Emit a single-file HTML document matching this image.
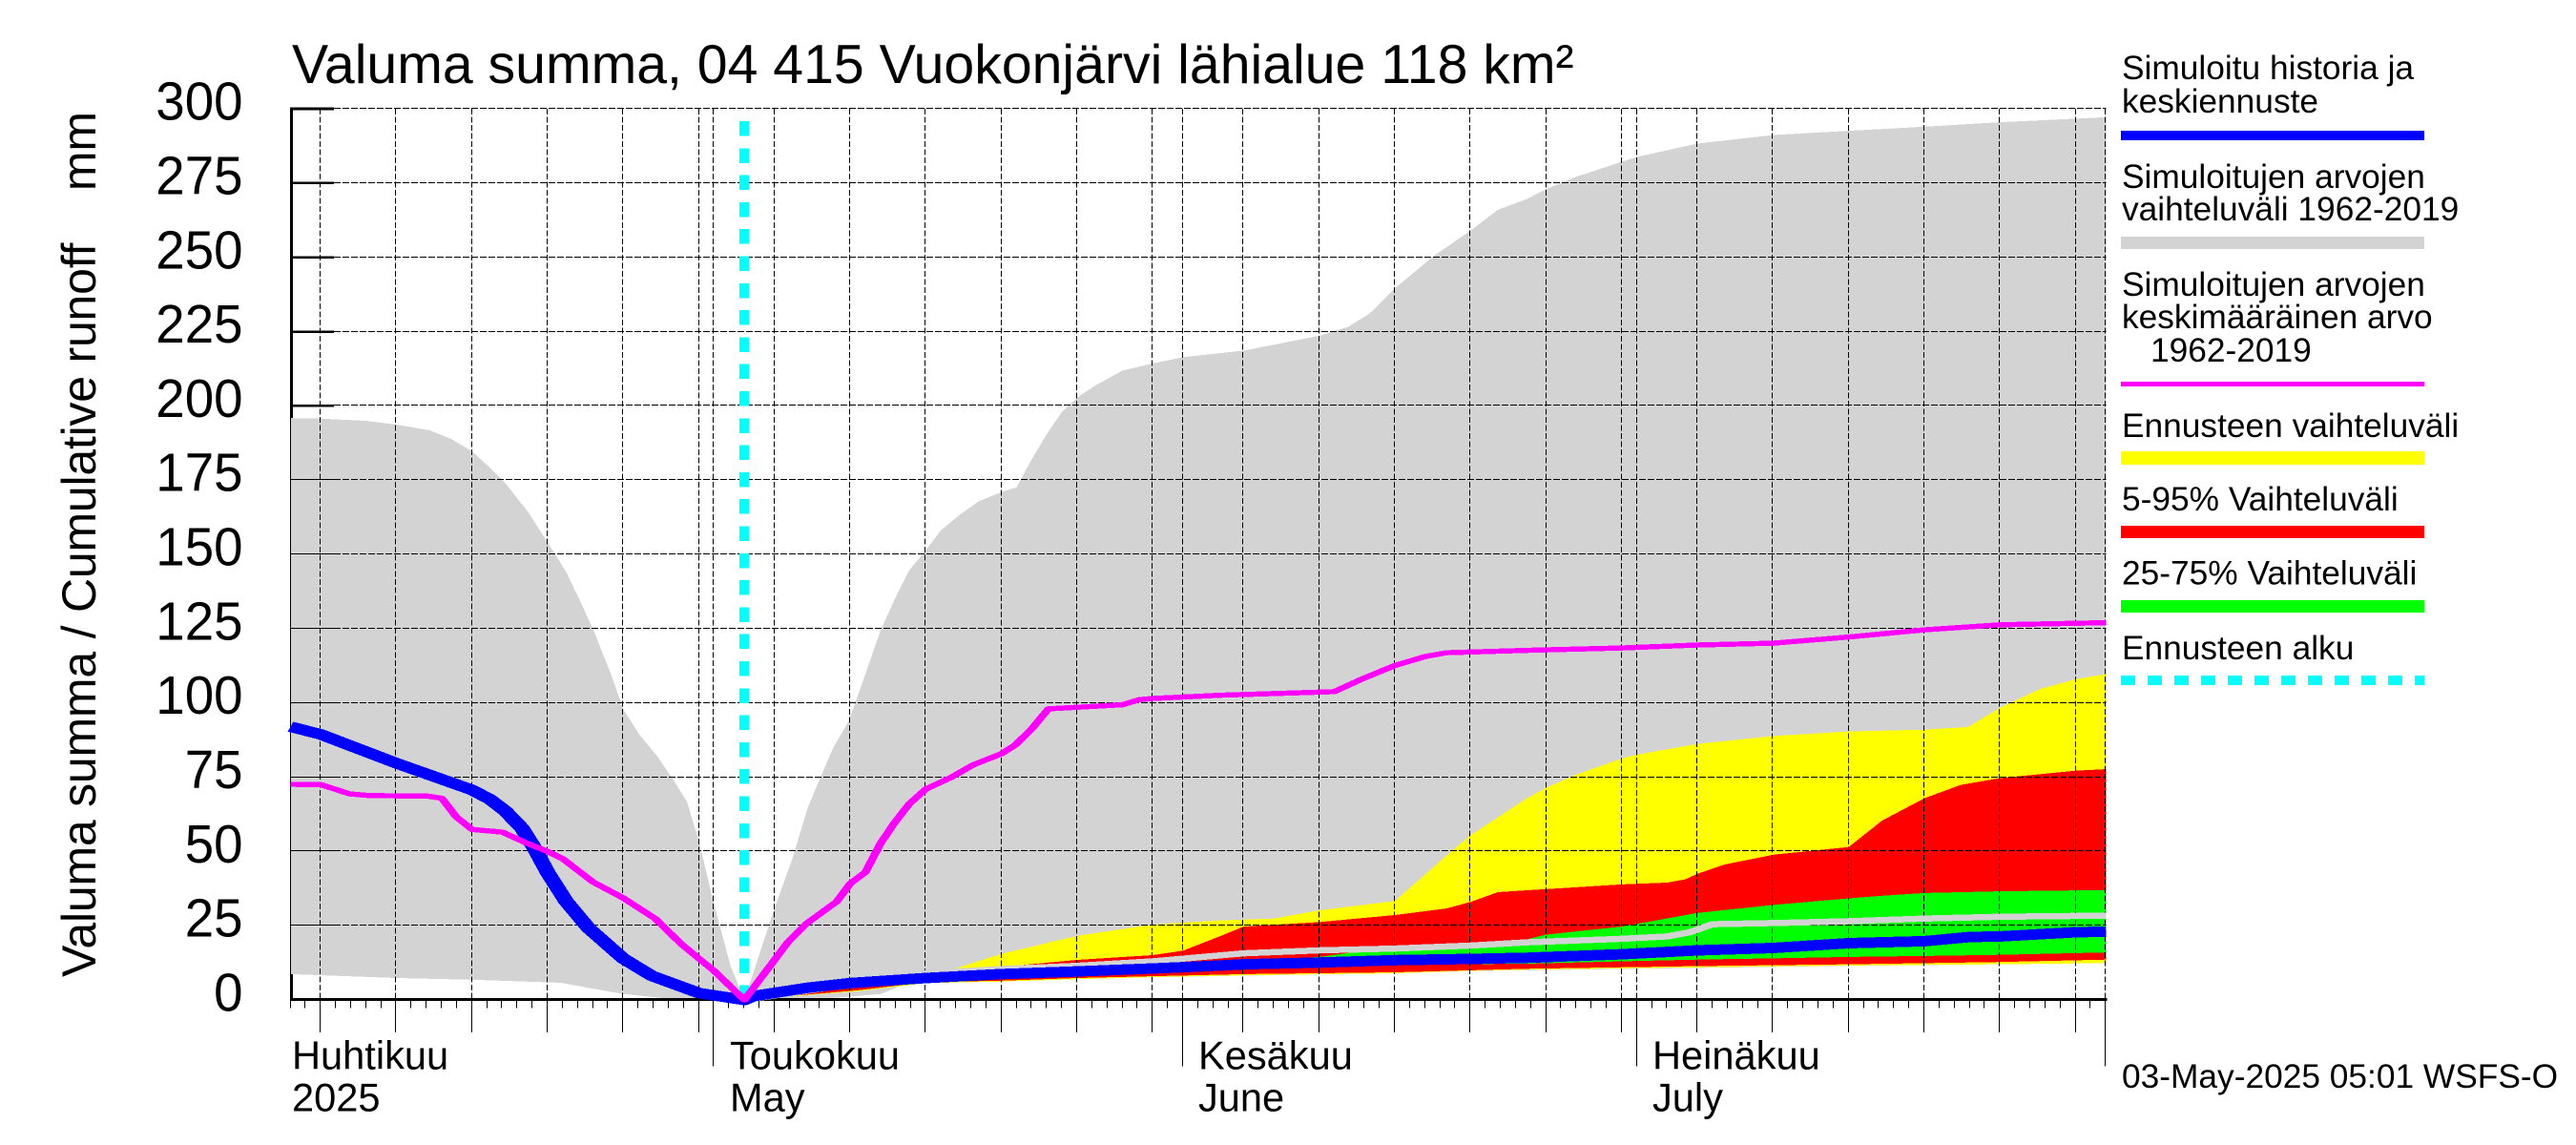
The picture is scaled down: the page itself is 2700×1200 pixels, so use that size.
<!DOCTYPE html>
<html lang="fi">
<head>
<meta charset="utf-8">
<title>Valuma summa, 04 415 Vuokonjärvi lähialue</title>
<style>
html,body{margin:0;padding:0;background:#fff;}
svg{display:block;font-family:"Liberation Sans","DejaVu Sans",sans-serif;fill:#000;}
text{white-space:pre;}
</style>
</head>
<body>
<svg id="chart" xmlns="http://www.w3.org/2000/svg" width="2700" height="1200" viewBox="0 0 2700 1200">
  <rect x="0" y="0" width="2700" height="1200" fill="#ffffff"/>
  <g id="plot"></g>

  <text x="306" y="87" font-size="57.2">Valuma summa, 04 415 Vuokonjärvi lähialue 118 km²</text>
  <text transform="translate(100,1024) rotate(-90)" font-size="50" textLength="907" lengthAdjust="spacing">Valuma summa / Cumulative runoff    mm</text>

  <text x="306" y="1120.5" font-size="41.6">Huhtikuu</text>
  <text x="306" y="1164.5" font-size="41.6">2025</text>
  <text x="765" y="1120.5" font-size="41.6">Toukokuu</text>
  <text x="765" y="1164.5" font-size="41.6">May</text>
  <text x="1256" y="1120.5" font-size="41.6">Kesäkuu</text>
  <text x="1256" y="1164.5" font-size="41.6">June</text>
  <text x="1732" y="1120.5" font-size="41.6">Heinäkuu</text>
  <text x="1732" y="1164.5" font-size="41.6">July</text>

  <g font-size="35.3" shape-rendering="crispEdges">
    <text x="2224" y="83">Simuloitu historia ja</text>
    <text x="2224" y="118">keskiennuste</text>
    <rect x="2223" y="137" width="318" height="10" fill="#0000ff"/>
    <text x="2224" y="197">Simuloitujen arvojen</text>
    <text x="2224" y="231">vaihteluväli 1962-2019</text>
    <rect x="2223" y="248" width="318" height="13" fill="#d3d3d3"/>
    <text x="2224" y="310">Simuloitujen arvojen</text>
    <text x="2224" y="344">keskimääräinen arvo</text>
    <text x="2254" y="379">1962-2019</text>
    <rect x="2223" y="400" width="318" height="5" fill="#ff00ff"/>
    <text x="2224" y="458">Ennusteen vaihteluväli</text>
    <rect x="2223" y="473" width="318" height="14" fill="#ffff00"/>
    <text x="2224" y="535">5-95% Vaihteluväli</text>
    <rect x="2223" y="551" width="318" height="13" fill="#ff0000"/>
    <text x="2224" y="612.5">25-75% Vaihteluväli</text>
    <rect x="2223" y="629" width="318" height="13" fill="#00ff00"/>
    <text x="2224" y="691">Ennusteen alku</text>
    <line x1="2223" y1="713" x2="2541" y2="713" stroke="#00ffff" stroke-width="10" stroke-dasharray="15 13"/>
  </g>

  <text x="2224" y="1140" font-size="35.3">03-May-2025 05:01 WSFS-O</text>
</svg>

<script>
// ---- Axis data ----
const yTickValues = [0,25,50,75,100,125,150,175,200,225,250,275,300];
const majorTickDays = [2,7,12,17,22,27,32,37,42,47,52,57,63,68,73,78,83,88,93,98,103,108,113,118];
const monthStartDays = [28,59,89,120];
const axisLastDay = 120;
const forecastStartDay = 30;

// ---- Series data: days since 3 April 2025, values in mm ----
const rangeUpperDays = [0,2,4.97,7,9.2,10.65,12,13.2,14.2,15.7,17,18.2,19.3,20.1,21.2,22,23.05,24.3,25.4,26.2,27.04,28,29.1,30,31,32,33.15,34.2,35.03,35.9,36.9,37.8,39,39.9,40.9,42,43,44.3,45.5,47,48,48.9,50,51,52,53.1,55,57,59,63,68,69.9,71.3,73,75.6,78,79.8,81.7,83,84.9,88,89,93,98,103,108,113,118,120];
const rangeUpperValues = [195.9,195.7,195,193.7,191.8,188.8,184.7,179.1,174,164.3,154,144.3,132.7,123.6,109.4,97.8,89.4,81.7,73.3,66.8,52.6,32,11.3,0,15.5,31,47.3,64.9,75,85.2,93.9,106.8,124.4,134.5,144.7,151.4,158.2,163.6,167.9,171,172.6,181.2,190.6,198,202.8,206.6,211.9,214.3,216.4,218.6,223.6,226.6,231,239.6,250.6,259,266,269.6,273,277,282.2,283.8,288.3,291.2,292.6,294,295.5,296.7,297.2];
const rangeLowerDays = [0,7,12,17.8,22,24.7,27,30,33,35.9,39,39.9,40.7,47,52,57,63,73,78,81.7,93,103,113,120];
const rangeLowerValues = [8.7,7.4,6.8,5.8,2,0.6,0,0,0,0.7,2,3.8,6,6.2,7,7.6,8.2,9,9.8,10,10.8,11.5,12,12.4];

const forecastUpperDays = [30,37.6,42,43.9,47,52,57,61.5,65,68,73,74.1,76.7,78,81.7,83,84.9,88,89,93,98,103,108,110.9,113,115.6,118,120];
const forecastUpperValues = [0,5.8,9.4,10.5,15.5,21.6,25.4,26.8,27.4,30.2,33.3,38.2,49.9,55.4,67.8,71.4,75.7,81.3,82.6,86.2,88.9,90.4,91,91.9,98.4,104.6,108,109.7];
const forecastLowerDays = [30,37.6,42,47,52,57,63,73,78,81.7,93,103,113,120];
const forecastLowerValues = [0,3,5.7,6.2,7,7.7,8.3,9,9.8,10.2,11,11.6,12,12.4];

const p95Days = [30,37.6,42,47,52,57,59,61.5,63,68,73,76.4,78,79.8,81.7,88,91,92.2,93,94.8,98,103,105.2,108,110.4,113,118,120];
const p95Values = [0,5.8,8.9,11.1,13.5,15.1,16.6,21.6,24.7,26.2,28.6,30.8,33,36.3,36.9,38.9,39.5,40.6,42.5,45.6,48.9,51.5,60.4,67.9,72.4,74.7,77.2,77.7];
const p5Days = [30,37.6,42,47,52,57,63,73,78,81.7,93,103,113,120];
const p5Values = [0,3.3,6,6.5,7.4,8,8.7,9.3,10,10.5,11.4,12,12.8,13.6];

const p75Days = [30,42,47,52,57,63,68,73,78,81.7,83,88,93,98,103,105,108,113,120];
const p75Values = [0,8,9,10.5,11.5,13,14.5,18,18.8,20.4,22,24.7,29.3,32,34.2,35,36,36.6,37];
const p25Days = [30,42,57,63,68,73,81.7,88,93,98,103,108,113,120];
const p25Values = [0,7.2,9.8,10.8,11.4,11.9,12.2,13,13.6,14,14.5,14.8,15.2,16];

const medianDays = [30,42,47,52,57,63,68,73,78,81.7,88,91,92.5,94,98,103,108,113,120];
const medianValues = [0,9,10.4,11.5,13,15.7,16.7,17.3,18.3,19.4,20.6,21.4,22.8,25.5,25.9,26.5,27.4,28,28.4];

const historyDays = [0,2,7,12,13.2,14.2,15.3,16.1,17,18.2,19.7,22,23.9,27,30,30.6,32,34.2,37,42,47,52,57,61.5,63,68,73,78,81.7,88,93,98,103,108,111,113,118,120];
const historyValues = [92,89.4,79.7,70.7,67.5,63.6,57.8,51.3,42.9,33.3,24.2,13.9,8.1,2.3,0,1.3,2.4,4.1,5.7,7.4,8.7,9.6,10.6,11.6,12,12.6,13.4,13.8,14.2,15.4,16.7,17.5,19.1,19.8,21.2,21.4,22.8,23];

const meanDays = [0,2,3.9,5.2,9.07,10,10.96,12,14,15.7,17,18,20,22,24.1,25.8,27,28,30,32.9,34.1,36.1,37,38,39,39.9,40.9,42,43.7,45.1,47,47.9,49,50.1,55,56.1,57,61.5,69,70.8,73,75,76.4,81.7,88,93,98,103,108,113,120];
const meanValues = [72.6,72.5,69.4,68.8,68.6,67.9,61.6,57.4,56.5,52.6,50,47.5,39.7,34.3,27.4,19,13.9,9.8,0,19.6,25.7,33.1,39.2,43,52.7,59.5,66,71,75,79.1,82.9,85.8,91.3,98,99.4,101.1,101.5,102.6,103.8,108,112.6,115.6,116.9,117.7,118.5,119.5,120.1,122.2,124.6,126.3,127];

// ---- Axis functions ----
function xScale(day){ return 304.5 + day * 15.857; }
function yScale(value){ return 1048 - value * 3.113; }

const SVG_NS = 'http://www.w3.org/2000/svg';
const plot = document.getElementById('plot');

function make(tag, attrs){
  const node = document.createElementNS(SVG_NS, tag);
  for (const key in attrs) node.setAttribute(key, attrs[key]);
  plot.appendChild(node);
  return node;
}
function pointList(days, values){
  return days.map(function(d, i){ return xScale(d).toFixed(1) + ',' + yScale(values[i]).toFixed(1); });
}
function bandPoints(upDays, upValues, loDays, loValues){
  return pointList(upDays, upValues).concat(pointList(loDays, loValues).reverse()).join(' ');
}
// The original pen is wider than it is tall: draw in a horizontally squeezed space and stretch back.
function penLine(days, values, color, width, stretch){
  const pts = days.map(function(d, i){ return (xScale(d) / stretch).toFixed(2) + ',' + yScale(values[i]).toFixed(1); }).join(' ');
  return make('polyline', {points: pts, transform: 'scale(' + stretch + ',1)', fill: 'none', stroke: color, 'stroke-width': width, 'stroke-linejoin': 'round', 'shape-rendering': 'crispEdges'});
}
function crisp(px){ return Math.round(px) + 0.5; }

// Heavy y axis and ticks, later partly covered by the grey range band
let el = make('rect', {x: 304, y: yScale(300) - 1.5, width: 3, height: yScale(0) - yScale(300) + 1.5, fill: '#000', 'shape-rendering': 'crispEdges'});



yTickValues.forEach(function(v){
  const tick = make('line', {x1: 304, x2: 350, y1: yScale(v), y2: yScale(v), stroke: '#000', 'stroke-width': v === 300 ? 3 : 2.4, 'shape-rendering': 'crispEdges'});
  
  
  const txt = String(v);
  const label = make('text', {x: 254.5, y: yScale(v) + 11.5, 'text-anchor': 'end', 'font-size': 57, textLength: txt.length * 30.4, lengthAdjust: 'spacingAndGlyphs'});
  
  
  label.textContent = txt;
});

// Filled bands
el = make('polygon', {points: bandPoints(rangeUpperDays, rangeUpperValues, rangeLowerDays, rangeLowerValues), fill: '#d3d3d3', 'shape-rendering': 'crispEdges'});



el = make('polygon', {points: bandPoints(forecastUpperDays, forecastUpperValues, forecastLowerDays, forecastLowerValues), fill: '#ffff00', 'shape-rendering': 'crispEdges'});



el = make('polygon', {points: bandPoints(p95Days, p95Values, p5Days, p5Values), fill: '#ff0000', 'shape-rendering': 'crispEdges'});



el = make('polygon', {points: bandPoints(p75Days, p75Values, p25Days, p25Values), fill: '#00ff00', 'shape-rendering': 'crispEdges'});



// Thin y axis, x axis
el = make('line', {x1: 304.5, x2: 304.5, y1: yScale(300), y2: yScale(0), stroke: '#000', 'stroke-width': 1, 'shape-rendering': 'crispEdges'});



el = make('rect', {x: 304, y: yScale(0) - 2, width: xScale(axisLastDay) - 304 + 1, height: 3, fill: '#000', 'shape-rendering': 'crispEdges'});



// Horizontal grid
yTickValues.forEach(function(v){
  const y = crisp(yScale(v)) - 1;
  const solid = make('line', {x1: 304, x2: 350, y1: y, y2: y, stroke: '#000', 'stroke-width': 1, 'shape-rendering': 'crispEdges'});
  
  
  if (v === 0) return;
  const grid = make('line', {x1: 350, x2: xScale(axisLastDay), y1: y, y2: y, stroke: '#000', 'stroke-width': 1, 'stroke-dasharray': '7 2', 'shape-rendering': 'crispEdges'});
  
  
});

// Vertical grid and x ticks
majorTickDays.concat(monthStartDays).forEach(function(d){
  const x = crisp(xScale(d)) - 1;
  const grid = make('line', {x1: x, x2: x, y1: yScale(300), y2: yScale(0), stroke: '#000', 'stroke-width': 1, 'stroke-dasharray': '6 2.5', 'shape-rendering': 'crispEdges'});
  
  
});
for (let d = 0; d <= axisLastDay; d++) {
  const x = crisp(xScale(d)) - 1;
  const minor = make('line', {x1: x, x2: x, y1: 1049, y2: 1056.5, stroke: '#000', 'stroke-width': 1, 'shape-rendering': 'crispEdges'});
  
  
}
majorTickDays.forEach(function(d){
  const x = crisp(xScale(d)) - 1;
  const major = make('line', {x1: x, x2: x, y1: 1049, y2: 1082, stroke: '#000', 'stroke-width': 1, 'shape-rendering': 'crispEdges'});
  
  
});
monthStartDays.forEach(function(d){
  const x = crisp(xScale(d)) - 1;
  const month = make('line', {x1: x, x2: x, y1: 1049, y2: 1117.5, stroke: '#000', 'stroke-width': 1, 'shape-rendering': 'crispEdges'});
  
  
});

// Lines
el = make('line', {x1: xScale(forecastStartDay), x2: xScale(forecastStartDay), y1: 127, y2: yScale(0), stroke: '#00ffff', 'stroke-width': 10, 'stroke-dasharray': '15.5 12.8', 'shape-rendering': 'crispEdges'});



el = penLine(medianDays, medianValues, '#d3d3d3', 6.5, 1.5);



el = penLine(historyDays, historyValues, '#0000ff', 11, 1.5);



el = penLine(meanDays, meanValues, '#ff00ff', 5.4, 1.6);


</script>
</body>
</html>
